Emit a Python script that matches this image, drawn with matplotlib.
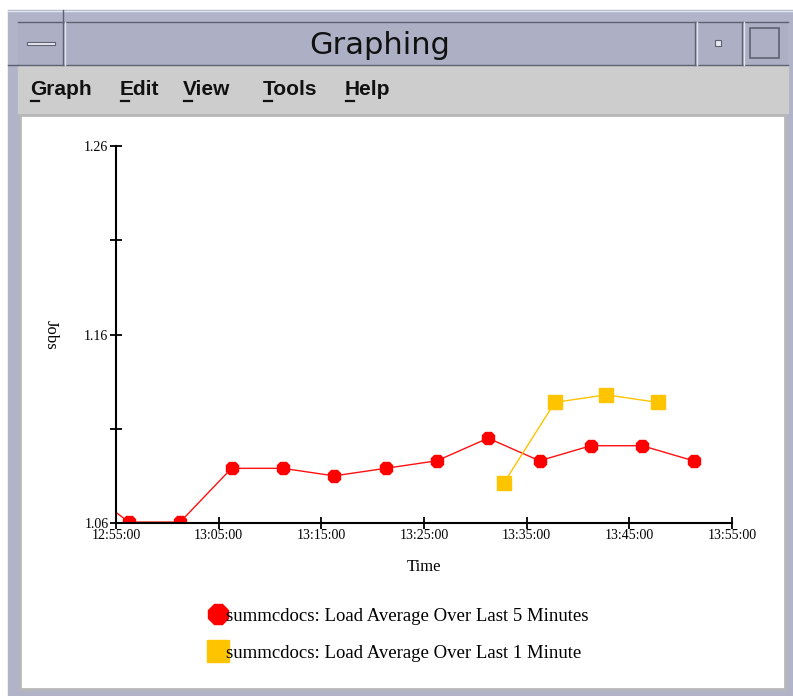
import datetime as dt
import matplotlib
matplotlib.use("Agg")
import matplotlib.pyplot as plt
import matplotlib.dates as mdates
from matplotlib.patches import Rectangle
from matplotlib.lines import Line2D

# data
day = dt.date(2000, 1, 1)
def t(h, m, s):
   return dt.datetime.combine(day, dt.time(h, m, s))

times_5min = [t(12, 51, 15), t(12, 56, 15), t(13, 1, 15), t(13, 6, 15), t(13, 11, 15),
              t(13, 16, 15), t(13, 21, 15), t(13, 26, 15), t(13, 31, 15), t(13, 36, 15),
              t(13, 41, 15), t(13, 46, 15), t(13, 51, 15)]
load_5min = [1.081, 1.0605, 1.0605, 1.089, 1.089, 1.085, 1.089, 1.093, 1.105, 1.093,
             1.101, 1.101, 1.093]
times_1min = [t(13, 32, 45), t(13, 37, 45), t(13, 42, 45), t(13, 47, 45)]
load_1min = [1.081, 1.124, 1.128, 1.124]

y_major = [1.06, 1.16, 1.26]
y_minor = [1.11, 1.21]
legend_labels = ['summcdocs: Load Average Over Last 5 Minutes',
                 'summcdocs: Load Average Over Last 1 Minute']

W, H = 793, 696
fig = plt.figure(figsize=(W / 100, H / 100), dpi=100)

# window chrome, drawn in pixel coordinates
bg = fig.add_axes([0, 0, 1, 1])
bg.set_xlim(0, W)
bg.set_ylim(H, 0)
bg.axis('off')

frame = '#b1b4c8'
dark = '#5e6172'
light = '#e4e6ee'
bg.add_patch(Rectangle((8, 10), W - 8, H - 10, color=frame))
bg.add_patch(Rectangle((18, 22), 770, 44, facecolor='#adb0c5', edgecolor='none'))
# title bar edges
bg.plot([18, 788], [22, 22], color=dark, lw=1)
bg.plot([18, 788], [65, 65], color=dark, lw=1)
bg.plot([8, 793], [11, 11], color=light, lw=1)
for x in [63, 695, 742]:
   bg.plot([x, x], [22, 65], color=dark, lw=1)
   bg.plot([x + 2, x + 2], [22, 65], color=light, lw=1)
bg.plot([63, 63], [10, 22], color=dark, lw=1)
bg.plot([8, 18], [65, 65], color=dark, lw=1)
# buttons
bg.add_patch(Rectangle((27, 42), 28, 3, facecolor='#e8e9f0', edgecolor=dark, lw=0.8))
bg.add_patch(Rectangle((715, 40), 6, 6, facecolor='#e8e9f0', edgecolor=dark, lw=0.8))
bg.add_patch(Rectangle((750, 28), 29, 30, facecolor='#adb0c5', edgecolor=dark, lw=1.2))
bg.text(380, 45, 'Graphing', ha='center', va='center', fontsize=22,
        family='DejaVu Sans', color='#111111')

# menu bar
bg.add_patch(Rectangle((18, 66), 770, 47, color='#cdcdcd'))
for label, x in [('Graph', 30), ('Edit', 120), ('View', 183), ('Tools', 263), ('Help', 345)]:
   bg.text(x, 95, label, ha='left', va='baseline', fontsize=15, fontweight='bold',
           family='Liberation Sans', color='#111111')
   bg.plot([x + 1, x + 9], [101, 101], color='#111111', lw=1.6)

# white panel
bg.add_patch(Rectangle((20, 115), 765, 574, facecolor='white', edgecolor='#b8b8b8', lw=2))

# the chart itself
x0, x1, ytop, ybot = 116, 732, 146, 523
ax = fig.add_axes([x0 / W, 1 - ybot / H, (x1 - x0) / W, (ybot - ytop) / H])
ax.patch.set_alpha(0)

ax.plot(times_5min, load_5min, color='#ff1010', lw=1, marker='8', ms=9.5,
        markerfacecolor='#ff0000', markeredgecolor='#ff0000', clip_on=True)
ax.plot(times_1min, load_1min, color='#ffc400', lw=1, marker='s', ms=10,
        markerfacecolor='#ffc400', markeredgecolor='#ffc400')

ax.set_xlim(t(12, 55, 0), t(13, 55, 0))
ax.set_ylim(1.06, 1.26)
ax.xaxis.set_major_locator(mdates.MinuteLocator(byminute=[5, 15, 25, 35, 45, 55]))
ax.xaxis.set_major_formatter(mdates.DateFormatter('%H:%M:%S'))
ax.set_yticks(y_major)
ax.set_yticklabels(['%.2f' % v for v in y_major])
ax.set_yticks(y_minor, minor=True)

for side in ['top', 'right']:
   ax.spines[side].set_visible(False)
for side in ['left', 'bottom']:
   ax.spines[side].set_linewidth(1.5)
ax.tick_params(which='both', direction='inout', length=9, width=1.3, pad=1,
               labelsize=10, labelfontfamily='Liberation Serif')
ax.tick_params(axis='x', pad=0)

ax.set_xlabel('Time', family='Liberation Serif', fontsize=12, labelpad=12)
ax.set_ylabel('Jobs', family='Liberation Serif', fontsize=12, rotation=270,
              labelpad=30, va='bottom')

handles = [Line2D([], [], ls='none', marker='8', ms=16, color='#ff0000'),
           Line2D([], [], ls='none', marker='s', ms=16, color='#ffc400')]
fig.legend(handles, legend_labels, loc='upper left', bbox_to_anchor=(194 / W, 1 - 591 / H),
           frameon=False, handlelength=0.8, handletextpad=0.0, labelspacing=1.05,
           prop={'family': 'Liberation Serif', 'size': 13.5})

fig.savefig('out.png', dpi=100)
